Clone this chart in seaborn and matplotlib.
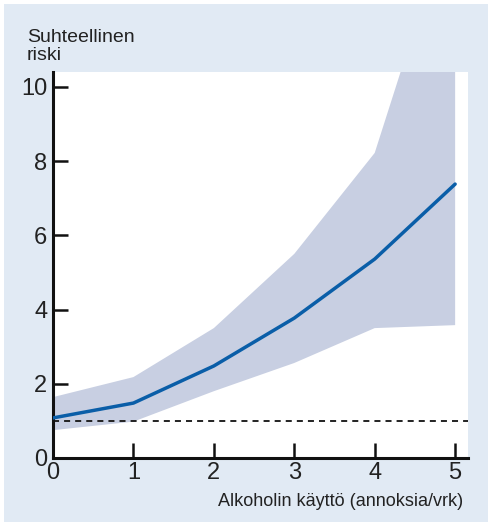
import numpy as np
import pandas as pd
import seaborn as sns
import matplotlib.pyplot as plt
from matplotlib.patches import Rectangle

# data
annokset = [0, 1, 2, 3, 4, 5]
riski = [1.08, 1.48, 2.48, 3.77, 5.36, 7.38]
ylaraja = [1.64, 2.18, 3.50, 5.50, 8.22, 15.0]
alaraja = [0.75, 0.98, 1.80, 2.56, 3.50, 3.58]
viite = 1.0

sns.set_style("ticks")
plt.rcParams['font.family'] = ['Liberation Sans', 'DejaVu Sans']

df = pd.DataFrame({'annokset': annokset, 'riski': riski})

fig = plt.figure(figsize=(4.88, 5.26), dpi=100)
fig.patch.set_facecolor('white')
fig.patches.append(Rectangle((4 / 488, 4 / 526), 484 / 488, 518 / 526,
                             transform=fig.transFigure, facecolor='#e1eaf4',
                             edgecolor='none', zorder=-10))

ax = fig.add_axes([53 / 488, 1 - 458 / 526, 415 / 488, 386 / 526])
ax.set_facecolor('white')

ax.fill_between(annokset, alaraja, ylaraja, color='#c8cfe2', linewidth=0, zorder=1)
ax.axhline(viite, color='#222222', linestyle=(0, (3.1, 2.6)), linewidth=1.4, zorder=2)
sns.lineplot(data=df, x='annokset', y='riski', color='#0a5ea8', linewidth=2.5,
             ax=ax, zorder=3)

ax.set_xlim(0, 5.16)
ax.set_ylim(0, 10.4)
ax.set_xticks(annokset)
ax.set_yticks([0, 2, 4, 6, 8, 10])
ax.set_xlabel('')
ax.set_ylabel('')

for side in ['top', 'right']:
    ax.spines[side].set_visible(False)
for side in ['left', 'bottom']:
    ax.spines[side].set_linewidth(2.2)
    ax.spines[side].set_color('#111111')

ax.tick_params(axis='both', direction='in', length=11, width=1.8, color='#111111',
               labelsize=17, labelcolor='#222222')
ax.tick_params(axis='x', pad=3)
ax.tick_params(axis='y', pad=4)

fig.text(27 / 488, 1 - 64 / 526, 'Suhteellinen\nriski', fontsize=14, color='#222222',
         ha='left', va='bottom', linespacing=1.1)
fig.text(463 / 488, 1 - 501 / 526, 'Alkoholin käyttö (annoksia/vrk)', fontsize=13,
         color='#222222', ha='right', va='center')

fig.savefig('out.png', dpi=100)
